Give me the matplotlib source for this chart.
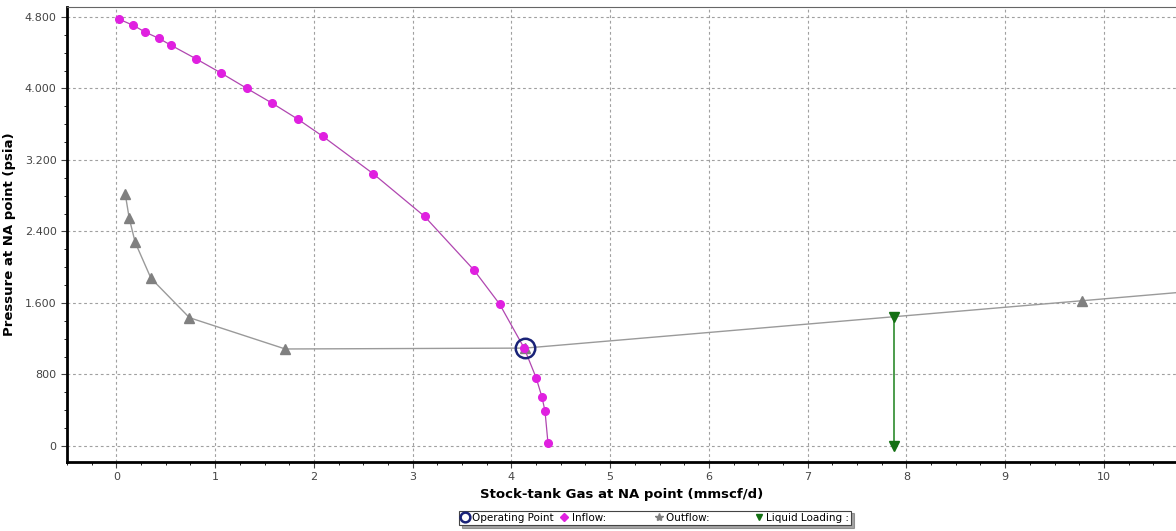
import matplotlib
matplotlib.use("Agg")
import matplotlib.pyplot as plt
from matplotlib.ticker import MultipleLocator, FuncFormatter
from matplotlib.lines import Line2D

# inflow (IPR) curve
inflow_q = [0.03, 0.17, 0.29, 0.43, 0.55, 0.81, 1.06, 1.32, 1.58, 1.84, 2.09,
            2.60, 3.12, 3.62, 3.88, 4.13, 4.25, 4.31, 4.34, 4.37]
inflow_p = [4773, 4706, 4631, 4560, 4485, 4329, 4172, 4001, 3833, 3654, 3464,
            3046, 2569, 1969, 1588, 1093, 764, 545, 391, 37]

# outflow (VLP) curve
outflow_q = [0.09, 0.13, 0.19, 0.35, 0.74, 1.71, 4.14, 9.78, 12.0]
outflow_p = [2815, 2547, 2278, 1876, 1435, 1085, 1095, 1625, 1835]

# operating point
op_q = [4.14]
op_p = [1095]

# liquid loading marker
ll_q = [7.87, 7.87]
ll_p = [1445, 3]

fig = plt.figure(figsize=(11.76, 5.31), dpi=100)
ax = fig.add_axes([0.057, 0.130, 0.943, 0.857])

ax.plot(inflow_q, inflow_p, color="#b046b0", lw=0.9, marker="o", ms=5.5,
        mfc="#e020e0", mec="#e020e0", zorder=3)
ax.plot(outflow_q, outflow_p, color="#9a9a9a", lw=1.0, marker="^", ms=6.5,
        mfc="#808080", mec="#808080", zorder=2)
ax.plot(ll_q, ll_p, color="#2e8b2e", lw=1.2, marker="v", ms=7,
        mfc="#137013", mec="#137013", zorder=4)
ax.plot(op_q, op_p, ls="none", marker="o", ms=14, mfc="none",
        mec="#1a2378", mew=1.8, zorder=5)

ax.set_xlim(-0.5, 10.73)
ax.set_ylim(-179, 4912)
ax.xaxis.set_major_locator(MultipleLocator(1))
ax.xaxis.set_minor_locator(MultipleLocator(0.25))
ax.yaxis.set_major_locator(MultipleLocator(800))
ax.yaxis.set_minor_locator(MultipleLocator(200))
ax.yaxis.set_major_formatter(FuncFormatter(lambda v, p: f"{v:,.0f}".replace(",", ".")))
ax.tick_params(labelsize=8, colors="#444444", length=4)
ax.tick_params(which="minor", length=2)
ax.grid(True, ls=(0, (2.5, 2.5)), color="#a0a0a0", lw=0.8)

for s in ["left", "bottom"]:
    ax.spines[s].set_linewidth(2)
    ax.spines[s].set_color("black")
ax.spines["top"].set_color("#666666")
ax.spines["right"].set_visible(False)

ax.set_xlabel("Stock-tank Gas at NA point (mmscf/d)", fontsize=9.5,
              fontweight="bold", labelpad=4)
ax.set_ylabel("Pressure at NA point (psia)", fontsize=9.5, fontweight="bold",
              labelpad=6)

handles = [
    Line2D([], [], ls="none", marker="o", ms=7, mfc="none", mec="#1a2378", mew=1.8),
    Line2D([], [], ls="none", marker="D", ms=4, mfc="#e020e0", mec="#e020e0"),
    Line2D([], [], ls="none", marker="*", ms=6, mfc="#808080", mec="#808080"),
    Line2D([], [], ls="none", marker="v", ms=5, mfc="#137013", mec="#137013"),
]
labels = ["Operating Point", "Inflow:             ", "Outflow:            ", "Liquid Loading :"]
leg = fig.legend(handles, labels, loc="center", bbox_to_anchor=(0.557, 0.025),
                 ncol=4, fontsize=7.5, frameon=True, fancybox=False, shadow=True,
                 handlelength=0.8, handletextpad=0.3, columnspacing=0.6,
                 borderpad=0.2, edgecolor="#444444")
leg.get_frame().set_linewidth(0.8)

fig.savefig("out.png", dpi=100)
